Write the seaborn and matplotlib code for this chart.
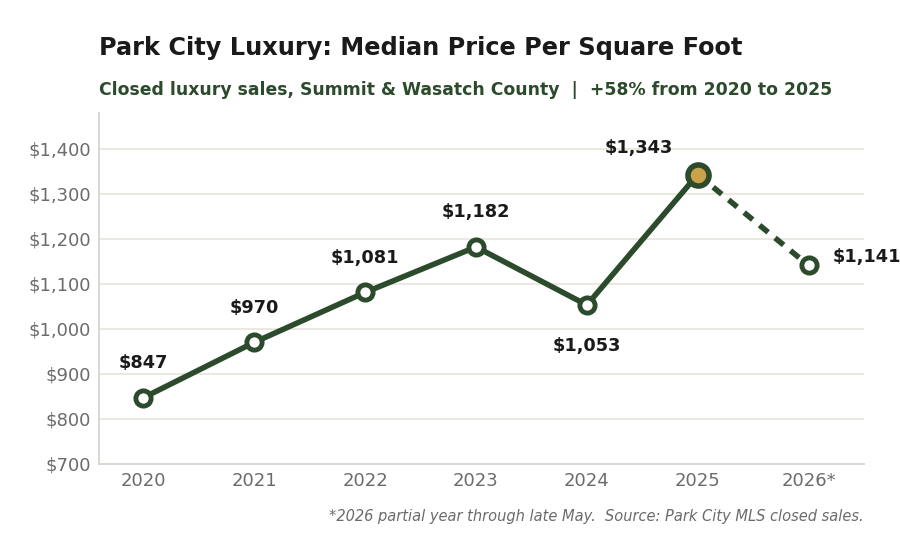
import matplotlib
matplotlib.use("Agg")
import matplotlib.pyplot as plt
import seaborn as sns
import pandas as pd
from matplotlib.ticker import FuncFormatter

years = ["2020", "2021", "2022", "2023", "2024", "2025", "2026*"]
price = [847, 970, 1081, 1182, 1053, 1343, 1141]
yticks = [700, 800, 900, 1000, 1100, 1200, 1300, 1400]

GREEN = "#2c4a2c"
GOLD = "#c9a24a"
GRID = "#e8e6dc"
GRAY = "#6b6b6b"

sns.set_theme(style="white")
plt.rcParams['font.family'] = ['DejaVu Sans']

df = pd.DataFrame({"x": range(len(years)), "year": years, "price": price})
solid = df.iloc[:6]
dashed = df.iloc[5:]

fig = plt.figure(figsize=(9, 5.4), dpi=100)
ax = fig.add_axes([0.11, 0.141, 0.85, 0.65])

sns.lineplot(data=solid, x="x", y="price", ax=ax, color=GREEN, linewidth=4, zorder=3)
sns.lineplot(data=dashed, x="x", y="price", ax=ax, color=GREEN, linewidth=4,
             linestyle=(0, (2, 1.6)), zorder=3)
normal = df[df["year"] != "2025"]
ax.scatter(normal["x"], normal["price"], s=120, facecolor="white", edgecolor=GREEN,
           linewidth=3.5, zorder=4)
peak = df[df["year"] == "2025"]
ax.scatter(peak["x"], peak["price"], s=230, facecolor=GOLD, edgecolor=GREEN,
           linewidth=4, zorder=5)

offsets = {
    "2020": (0, 77, "center"),
    "2021": (0, 77, "center"),
    "2022": (0, 77, "center"),
    "2023": (0, 77, "center"),
    "2024": (0, -92, "center"),
    "2025": (-0.53, 59, "center"),
    "2026*": (0.22, 19, "left"),
}
for xi, yr, p in zip(df["x"], years, price):
    dx, dy, ha = offsets[yr]
    ax.text(xi + dx, p + dy, f"${p:,}", ha=ha, va="center", fontsize=12.8,
            fontweight="bold", color="#1a1a1a", zorder=6)

ax.set_xlim(-0.4, 6.5)
ax.set_ylim(700, 1480)
ax.set_yticks(yticks)
ax.yaxis.set_major_formatter(FuncFormatter(lambda v, p: f"${int(v):,}"))
ax.set_xticks(range(len(years)))
ax.set_xticklabels(years)
ax.set_xlabel("")
ax.set_ylabel("")
ax.tick_params(axis="both", colors=GRAY, labelsize=13, length=0)
ax.tick_params(axis="y", pad=6)
ax.tick_params(axis="x", pad=6)
ax.grid(axis="y", color=GRID, linewidth=1.3)
ax.set_axisbelow(True)
for s in ["top", "right"]:
    ax.spines[s].set_visible(False)
for s in ["left", "bottom"]:
    ax.spines[s].set_color("#d6d6d0")
    ax.spines[s].set_linewidth(1.3)

fig.text(0.11, 0.912, "Park City Luxury: Median Price Per Square Foot",
         fontsize=17.3, fontweight="bold", color="#1a1a1a", va="center")
fig.text(0.11, 0.833, "Closed luxury sales, Summit & Wasatch County  |  +58% from 2020 to 2025",
         fontsize=12.4, fontweight="bold", color=GREEN, va="center")
fig.text(0.96, 0.044, "*2026 partial year through late May.  Source: Park City MLS closed sales.",
         fontsize=10.5, style="italic", color=GRAY, ha="right", va="center")

fig.savefig("out.png", dpi=100, facecolor="white")
